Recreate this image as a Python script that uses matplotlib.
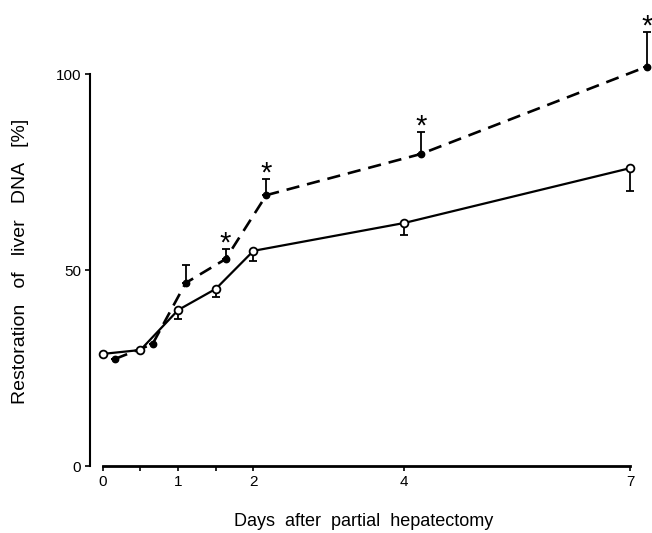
import numpy as np
import matplotlib
matplotlib.use("Agg")
import matplotlib.pyplot as plt

plt.rcParams["font.family"] = ["Liberation Sans", "DejaVu Sans"]

# control: open circles, solid line (error bars below)
ctrl_days = [0, 0.5, 1, 1.5, 2, 4, 7]
ctrl_vals = [28.6, 29.6, 39.8, 45.2, 54.9, 62.0, 76.0]
ctrl_err = [0, 0, 2.3, 2.1, 2.5, 3.1, 5.8]

# treated: filled circles, dashed line (error bars above)
trt_days = [0.16, 0.66, 1.10, 1.63, 2.17, 4.22, 7.22]
trt_vals = [27.3, 31.1, 46.7, 52.8, 69.1, 79.6, 101.9]
trt_err = [0, 0, 4.5, 2.6, 4.1, 5.6, 8.9]
trt_signif = [False, False, False, True, True, True, True]

x_major = [0, 1, 2, 4, 7]
x_minor = [0.5, 1.5]
y_ticks = [0, 50, 100]

fig = plt.figure(figsize=(6.52, 5.33), dpi=100)
ax = fig.add_axes([90 / 652, 67 / 533, 562 / 652, 466 / 533])
ax.set_xlim(-0.17, 7.29)
ax.set_ylim(0, 118.9)

# treated series
ax.errorbar(trt_days, trt_vals, yerr=[np.zeros(len(trt_err)), trt_err],
            fmt="none", ecolor="black", elinewidth=1.3, capsize=2.6,
            capthick=1.3, zorder=2, clip_on=False)
ax.plot(trt_days, trt_vals, color="black", lw=1.9, ls=(0, (5, 3)),
        marker="o", ms=4.6, mfc="black", mec="black", zorder=3, clip_on=False)

# control series
ax.errorbar(ctrl_days, ctrl_vals, yerr=[ctrl_err, np.zeros(len(ctrl_err))],
            fmt="none", ecolor="black", elinewidth=1.3, capsize=2.6,
            capthick=1.3, zorder=2)
ax.plot(ctrl_days, ctrl_vals, color="black", lw=1.6, ls="-",
        marker="o", ms=5.6, mfc="white", mec="black", mew=1.3, zorder=4)

# significance marks
for d, v, e, s in zip(trt_days, trt_vals, trt_err, trt_signif):
    if s:
        ax.annotate("*", (d, v + e), xytext=(0, -2), textcoords="offset points",
                    ha="center", va="baseline", fontsize=21)

for side in ["top", "right"]:
    ax.spines[side].set_visible(False)
ax.spines["left"].set_bounds(0, 100)
ax.spines["bottom"].set_bounds(0, 7)
ax.spines["left"].set_linewidth(1.5)
ax.spines["bottom"].set_linewidth(2.0)

ax.set_xticks(x_major)
ax.set_xticks(x_minor, minor=True)
ax.set_yticks(y_ticks)
ax.tick_params(axis="both", which="both", direction="out", length=3.5,
               width=1.2, labelsize=11)
ax.tick_params(axis="x", pad=3)
ax.tick_params(axis="y", pad=3)

fig.text(21 / 652, (533 - 261) / 533, "Restoration   of   liver   DNA   [%]",
         rotation=90, ha="center", va="center", fontsize=14)
fig.text(364 / 652, (533 - 521) / 533, "Days  after  partial  hepatectomy",
         ha="center", va="center", fontsize=13)

fig.savefig("out.png", dpi=100)
